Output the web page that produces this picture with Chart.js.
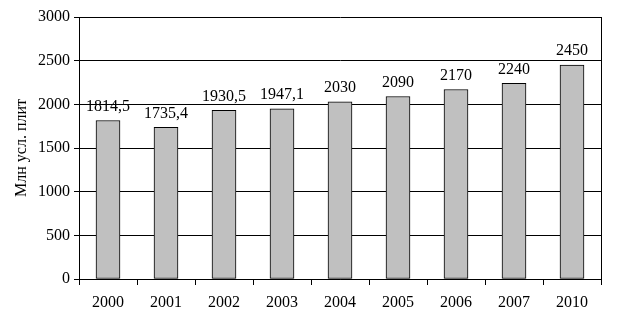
<!DOCTYPE html>
<html>
<head>
<meta charset="utf-8">
<script src="https://cdn.jsdelivr.net/npm/chart.js@4/dist/chart.umd.min.js"></script>
<style>
  html, body { margin: 0; padding: 0; background: #fff; }
  #wrap { width: 626px; height: 327px; }
</style>
</head>
<body>
<div id="wrap"><canvas id="chart"></canvas></div>
<script>
const years = ['2000', '2001', '2002', '2003', '2004', '2005', '2006', '2007', '2010'];
const output = [1814.5, 1735.4, 1930.5, 1947.1, 2030, 2090, 2170, 2240, 2450];
const yTicks = [0, 500, 1000, 1500, 2000, 2500, 3000];

const serif = 'Liberation Serif, Times New Roman, serif';

// value labels above bars, comma as decimal separator
const valueLabels = {
  id: 'valueLabels',
  afterDatasetsDraw(chart) {
    const ctx = chart.ctx;
    const meta = chart.getDatasetMeta(0);
    ctx.save();
    ctx.font = '16px ' + serif;
    ctx.fillStyle = '#000';
    ctx.textAlign = 'center';
    ctx.textBaseline = 'bottom';
    meta.data.forEach((bar, i) => {
      ctx.fillText(String(output[i]).replace('.', ','), bar.x, bar.y - 6);
    });
    ctx.restore();
  }
};

new Chart(document.getElementById('chart'), {
  type: 'bar',
  data: {
    labels: years,
    datasets: [{
      data: output,
      backgroundColor: '#c0c0c0',
      borderColor: '#000',
      borderWidth: 1,
      borderSkipped: false,
      barThickness: 24
    }]
  },
  options: {
    responsive: true,
    maintainAspectRatio: false,
    animation: false,
    layout: { padding: { top: 17, right: 25, left: 0, bottom: 0 } },
    plugins: { legend: { display: false }, tooltip: { enabled: false } },
    scales: {
      x: {
        grid: { drawOnChartArea: false, color: '#000', tickLength: 6, offset: true },
        border: { color: '#000' },
        ticks: { color: '#000', font: { family: serif, size: 16 }, padding: 8 },
        afterFit(scale) { scale.height = 48; }
      },
      y: {
        min: 0,
        max: 3000,
        afterBuildTicks(scale) { scale.ticks = yTicks.map(v => ({ value: v })); },
        grid: { color: '#000', tickLength: 5 },
        border: { color: '#000' },
        ticks: {
          color: '#000',
          font: { family: serif, size: 16 },
          padding: 4,
          callback: v => String(v)
        },
        title: {
          display: true,
          text: 'Млн усл. плит',
          color: '#000',
          font: { family: serif, size: 16 },
          padding: { top: 12, bottom: 0 }
        },
        afterFit(scale) { scale.width = 79; }
      },
      y2: {
        position: 'right',
        min: 0,
        max: 3000,
        grid: { display: false },
        ticks: { display: false },
        border: { color: '#000' },
        afterFit(scale) { scale.width = 0; }
      }
    }
  },
  plugins: [valueLabels]
});
</script>
</body>
</html>
